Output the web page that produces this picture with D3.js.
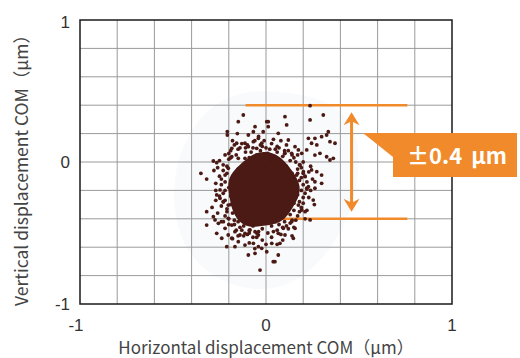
<!DOCTYPE html>
<html>
<head>
<meta charset="utf-8">
<script src="https://cdn.jsdelivr.net/npm/d3@7"></script>
<style>
  body { margin: 0; background: #fff; }
  svg { display: block; }
</style>
</head>
<body>
<div id="chart"></div>
<script>
// tick labels and grid lines
const tick_values = [-1, 0, 1];
const grid_values = [-0.8, -0.6, -0.4, -0.2, 0, 0.2, 0.4, 0.6, 0.8];

// spec band
const band_values = [0.4, -0.4];
const band_label = '±0.4 µm';

// dense core of the COM cloud (µm)
const core_points = [
    [-0.18, -0.12], [-0.15, -0.05], [-0.12, -0.02], [-0.09, 0.03], [-0.05, 0.05], [-0.01, 0.02], [0.03, 0.04], [0.07, 0.01], [0.11, -0.03], [0.14, -0.08],
    [-0.2, -0.18], [-0.17, -0.22], [-0.14, -0.15], [-0.11, -0.09], [-0.08, -0.04], [-0.04, -0.07], [0.0, -0.03], [0.04, -0.06], [0.08, -0.1], [0.12, -0.13],
    [0.16, -0.17], [0.13, -0.21], [0.09, -0.17], [0.05, -0.13], [0.01, -0.11], [-0.03, -0.14], [-0.07, -0.12], [-0.1, -0.17], [-0.13, -0.2], [-0.16, -0.27],
    [-0.19, -0.3], [-0.15, -0.33], [-0.12, -0.27], [-0.08, -0.22], [-0.05, -0.19], [-0.01, -0.2], [0.03, -0.18], [0.07, -0.22], [0.11, -0.26], [0.15, -0.29],
    [0.12, -0.33], [0.08, -0.3], [0.04, -0.26], [0.0, -0.24], [-0.04, -0.27], [-0.07, -0.3], [-0.11, -0.34], [-0.14, -0.39], [-0.1, -0.42], [-0.06, -0.37],
    [-0.02, -0.33], [0.02, -0.31], [0.06, -0.35], [0.09, -0.39], [0.05, -0.42], [0.01, -0.38], [-0.03, -0.41], [-0.07, -0.45], [-0.02, -0.47], [0.03, -0.45],
    [-0.13, -0.07], [-0.06, 0.0], [0.01, 0.06], [0.09, 0.04], [0.15, -0.12], [0.17, -0.23], [-0.18, -0.36], [-0.09, -0.48], [0.07, -0.44], [0.13, -0.37],
    [-0.16, -0.1], [-0.1, -0.06], [-0.03, -0.01], [0.05, -0.02], [0.1, -0.07], [-0.14, -0.25], [-0.06, -0.16], [0.02, -0.15], [0.1, -0.2], [-0.09, -0.28],
    [-0.01, -0.28], [0.07, -0.27], [-0.12, -0.36], [-0.04, -0.35], [0.04, -0.34], [0.11, -0.31], [-0.08, -0.4], [0.0, -0.42], [-0.17, -0.16], [0.14, -0.19],
    [-0.05, -0.24], [0.06, -0.09], [-0.02, -0.08], [-0.11, -0.12], [-0.19, -0.24], [0.16, -0.25], [0.12, -0.05], [-0.07, -0.08], [0.02, 0.0], [-0.13, -0.3],
    [-0.15, -0.42], [-0.12, -0.45], [0.1, -0.42], [0.18, -0.13], [0.19, -0.2], [-0.21, -0.08], [-0.22, -0.14], [0.06, 0.07], [-0.03, 0.08], [-0.08, 0.07]
];

// points crowding the edge of the core (µm)
const edge_points = [
    [-0.2, 0.06], [-0.15, 0.09], [-0.11, 0.1], [-0.07, 0.1], [-0.03, 0.12], [0.02, 0.09], [0.06, 0.11], [0.1, 0.08], [0.14, 0.05], [0.16, 0.0],
    [0.19, -0.04], [0.21, -0.1], [0.2, -0.16], [0.22, -0.19], [0.2, -0.25], [0.19, -0.32], [0.17, -0.38], [0.14, -0.41], [0.11, -0.45], [0.06, -0.48],
    [0.01, -0.5], [-0.04, -0.49], [-0.09, -0.5], [-0.13, -0.48], [-0.17, -0.44], [-0.2, -0.4], [-0.21, -0.35], [-0.23, -0.28], [-0.23, -0.22], [-0.24, -0.12],
    [-0.23, -0.06], [-0.19, 0.03], [-0.25, 0.01], [-0.13, 0.13], [-0.01, 0.15], [0.11, 0.12], [0.17, -0.08], [0.23, -0.07], [0.24, -0.2], [0.22, -0.34],
    [0.15, -0.46], [0.09, -0.55], [-0.05, -0.53], [-0.15, -0.52], [-0.24, -0.42], [-0.27, -0.27], [-0.27, -0.2], [-0.26, -0.04], [-0.18, 0.15], [0.04, 0.16],
    [0.2, 0.0], [0.25, -0.12], [0.21, -0.4], [-0.06, -0.61], [0.06, -0.58], [-0.29, -0.32]
];

// ring of medium density around the core (µm)
const ring_points = [
    [-0.22, 0.05], [-0.19, 0.08], [-0.14, 0.1], [-0.1, 0.12], [-0.06, 0.15], [-0.02, 0.11], [0.03, 0.13], [0.07, 0.1], [0.12, 0.08], [0.15, 0.03],
    [0.18, -0.02], [0.2, -0.08], [0.22, -0.14], [0.21, -0.22], [0.2, -0.29], [0.18, -0.35], [0.16, -0.41], [0.12, -0.47], [0.08, -0.51], [0.03, -0.53],
    [-0.02, -0.55], [-0.07, -0.53], [-0.12, -0.52], [-0.16, -0.48], [-0.2, -0.44], [-0.22, -0.38], [-0.24, -0.31], [-0.25, -0.24], [-0.24, -0.16], [-0.25, -0.1],
    [-0.23, -0.02], [-0.2, 0.02], [-0.16, 0.05], [-0.11, 0.07], [0.0, 0.1], [0.05, 0.09], [0.1, 0.06], [0.13, 0.01], [0.17, -0.05], [0.19, -0.11],
    [0.18, -0.28], [0.15, -0.34], [0.13, -0.43], [0.09, -0.46], [0.04, -0.49], [-0.05, -0.5], [-0.1, -0.51], [-0.14, -0.46], [-0.17, -0.41], [-0.21, -0.33],
    [-0.22, -0.27], [-0.22, -0.2], [-0.21, -0.03], [-0.27, -0.15], [-0.28, -0.06], [0.24, -0.03], [0.23, -0.25], [0.17, 0.05], [-0.17, 0.12], [0.08, 0.15],
    [-0.04, 0.18], [0.14, -0.52], [-0.09, -0.57], [-0.18, -0.54], [0.0, -0.58], [-0.26, -0.36], [0.26, -0.3]
];

// scattered outliers (µm)
const outer_points = [
    [-0.122, 0.331], [-0.149, 0.284], [-0.208, 0.214], [-0.208, 0.19], [-0.154, 0.2], [-0.095, 0.19], [-0.059, 0.249], [-0.068, 0.213], [-0.015, 0.213],
    [0.004, 0.284], [0.012, 0.249], [-0.184, 0.096], [-0.158, 0.132], [-0.113, 0.132], [-0.095, 0.108], [-0.068, 0.143], [-0.05, 0.096], [-0.023, 0.132],
    [-0.041, 0.167], [-0.283, 0.007], [-0.265, -0.005], [-0.184, 0.037], [-0.149, 0.026], [-0.113, 0.026], [-0.203, -0.044], [-0.22, -0.092], [-0.319, -0.12],
    [0.237, 0.397], [0.102, 0.319], [0.308, 0.331], [0.237, 0.296], [0.111, 0.261], [0.012, 0.284], [0.066, 0.202], [0.335, 0.213], [0.326, 0.19],
    [0.228, 0.167], [0.263, 0.167], [0.299, 0.178], [0.344, 0.143], [0.371, 0.132], [0.245, 0.132], [0.273, 0.12], [0.12, 0.155], [0.156, 0.108],
    [0.192, 0.061], [0.219, 0.085], [0.263, 0.049], [0.29, 0.061], [0.326, 0.037], [0.344, 0.014], [0.362, 0.026], [0.102, 0.061], [0.138, 0.061],
    [0.174, 0.085], [0.245, -0.056], [0.273, -0.068], [0.299, -0.092], [0.21, -0.103], [0.263, -0.139], [0.299, -0.15], [0.228, -0.174], [0.183, -0.021],
    [0.201, -0.068], [0.165, -0.092], [-0.319, -0.35], [-0.283, -0.385], [-0.274, -0.408], [-0.319, -0.444], [-0.256, -0.432], [-0.229, -0.42],
    [-0.203, -0.397], [-0.184, -0.444], [-0.22, -0.467], [-0.265, -0.502], [-0.238, -0.537], [-0.203, -0.514], [-0.184, -0.537], [-0.167, -0.491],
    [-0.14, -0.514], [-0.113, -0.502], [-0.086, -0.479], [-0.059, -0.491], [-0.041, -0.514], [-0.149, -0.561], [-0.113, -0.585], [-0.068, -0.573],
    [-0.041, -0.596], [-0.023, -0.608], [-0.211, -0.596], [-0.167, -0.596], [-0.095, -0.655], [-0.059, -0.643], [0.004, -0.632], [0.039, -0.702],
    [-0.032, -0.761], [-0.247, -0.197], [-0.265, -0.232], [-0.247, -0.256], [-0.229, -0.28], [-0.203, -0.303], [0.254, -0.268], [0.237, -0.408],
    [0.21, -0.35], [0.263, -0.185], [0.219, -0.185], [0.174, -0.303], [0.192, -0.338], [0.138, -0.42], [0.156, -0.467], [0.147, -0.537],
    [0.102, -0.514], [0.066, -0.502], [0.075, -0.573], [0.066, -0.655], [0.048, -0.702], [0.031, -0.573], [0.093, -0.467], [-0.35, -0.08]
];

const all_points = core_points.concat(edge_points, ring_points, outer_points);

const chart_width = 520;
const chart_height = 358;
const orange = '#f18a2b';
const dot_color = '#4b1a14';

const svg = d3.select('#chart')
    .append('svg')
    .attr('width', chart_width)
    .attr('height', chart_height);

// Scales
const x_scale = d3.scaleLinear().domain([-1, 1]).range([80, 452]);
const y_scale = d3.scaleLinear().domain([-1, 1]).range([304, 20]);

const path = d3.geoPath();

// Very faint halo from the point density
const halo = d3.contourDensity()
    .x(d => x_scale(d[0]))
    .y(d => y_scale(d[1]))
    .size([chart_width, chart_height])
    .bandwidth(22)
    .thresholds(12)(all_points);

svg.append('path')
    .attr('d', path(halo[0]))
    .attr('fill', '#f3f6fa')
    .attr('opacity', 0.6);

// Grid
svg.append('g')
    .selectAll('line')
    .data(grid_values)
    .enter()
    .append('line')
    .attr('x1', d => x_scale(d))
    .attr('x2', d => x_scale(d))
    .attr('y1', y_scale(1))
    .attr('y2', y_scale(-1))
    .attr('stroke', '#9a9a9a')
    .attr('stroke-width', 1);

svg.append('g')
    .selectAll('line')
    .data(grid_values)
    .enter()
    .append('line')
    .attr('x1', x_scale(-1))
    .attr('x2', x_scale(1))
    .attr('y1', d => y_scale(d))
    .attr('y2', d => y_scale(d))
    .attr('stroke', '#9a9a9a')
    .attr('stroke-width', 1);

// Band lines (under the dots)
svg.selectAll('line.band')
    .data(band_values)
    .enter()
    .append('line')
    .attr('class', 'band')
    .attr('x1', x_scale(-0.11))
    .attr('x2', x_scale(0.76))
    .attr('y1', d => y_scale(d))
    .attr('y2', d => y_scale(d))
    .attr('stroke', orange)
    .attr('stroke-width', 2.5);

// Solid core where the core points pile up
const dens = d3.contourDensity()
    .x(d => x_scale(d[0]))
    .y(d => y_scale(d[1]))
    .size([chart_width, chart_height])
    .cellSize(2)
    .bandwidth(9)
    .thresholds(40)(core_points);

const max_dens = d3.max(dens, d => d.value);
const core = dens.find(d => d.value >= max_dens * 0.6);

svg.append('path')
    .attr('d', path(core))
    .attr('fill', dot_color);

// Dots
svg.append('g')
    .selectAll('circle')
    .data(all_points)
    .enter()
    .append('circle')
    .attr('cx', d => x_scale(d[0]))
    .attr('cy', d => y_scale(d[1]))
    .attr('r', 1.9)
    .attr('fill', dot_color);

// Frame
svg.append('rect')
    .attr('x', x_scale(-1))
    .attr('y', y_scale(1))
    .attr('width', x_scale(1) - x_scale(-1))
    .attr('height', y_scale(-1) - y_scale(1))
    .attr('fill', 'none')
    .attr('stroke', '#1a1a1a')
    .attr('stroke-width', 1.5);

// Tick labels
svg.selectAll('text.xtick')
    .data(tick_values)
    .enter()
    .append('text')
    .text(d => d)
    .attr('x', d => x_scale(d) - (d < 0 ? 4 : 0))
    .attr('y', 331)
    .attr('text-anchor', 'middle')
    .attr('font-family', 'Liberation Sans, Arial, sans-serif')
    .attr('font-size', 17)
    .attr('fill', '#333');

svg.selectAll('text.ytick')
    .data(tick_values)
    .enter()
    .append('text')
    .text(d => d)
    .attr('x', 70)
    .attr('y', d => y_scale(d) + 6 + (d === 1 ? 2 : 0))
    .attr('text-anchor', 'end')
    .attr('font-family', 'Liberation Sans, Arial, sans-serif')
    .attr('font-size', 17)
    .attr('fill', '#333');

// Axis titles
svg.append('text')
    .text('Horizontal displacement COM（μm）')
    .attr('x', x_scale(0))
    .attr('y', 354)
    .attr('text-anchor', 'middle')
    .attr('font-family', 'Noto Sans CJK JP, Noto Sans, sans-serif')
    .attr('font-size', 17)
    .attr('fill', '#444');

svg.append('text')
    .text('Vertical displacement COM（μm）')
    .attr('transform', `translate(28, ${y_scale(0) + 4}) rotate(-90)`)
    .attr('text-anchor', 'middle')
    .attr('font-family', 'Noto Sans CJK JP, Noto Sans, sans-serif')
    .attr('font-size', 17.5)
    .attr('fill', '#444');

// Double arrow between the band lines
const ax = x_scale(0.46);
const top_y = y_scale(band_values[0]) + 7;
const bot_y = y_scale(band_values[1]) - 7;

svg.append('line')
    .attr('x1', ax)
    .attr('x2', ax)
    .attr('y1', top_y + 8)
    .attr('y2', bot_y - 8)
    .attr('stroke', orange)
    .attr('stroke-width', 3);

svg.append('path')
    .attr('d', `M${ax},${top_y} L${ax - 8},${top_y + 13} L${ax},${top_y + 9} L${ax + 8},${top_y + 13} Z`)
    .attr('fill', orange);

svg.append('path')
    .attr('d', `M${ax},${bot_y} L${ax - 8},${bot_y - 13} L${ax},${bot_y - 9} L${ax + 8},${bot_y - 13} Z`)
    .attr('fill', orange);

// Callout box
const bx0 = 393, bx1 = 517, by0 = 133, by1 = 177;
svg.append('path')
    .attr('d', `M363,${by0} L${bx1},${by0} L${bx1},${by1} L${bx0},${by1} L${bx0},157 Z`)
    .attr('fill', orange);

svg.append('text')
    .text(band_label)
    .attr('x', (bx0 + bx1) / 2 + 2)
    .attr('y', 164)
    .attr('text-anchor', 'middle')
    .attr('font-family', 'Noto Sans CJK JP, Noto Sans, sans-serif')
    .attr('font-weight', 'bold')
    .attr('font-size', 22)
    .attr('word-spacing', 4)
    .attr('fill', '#fff');
</script>
</body>
</html>
